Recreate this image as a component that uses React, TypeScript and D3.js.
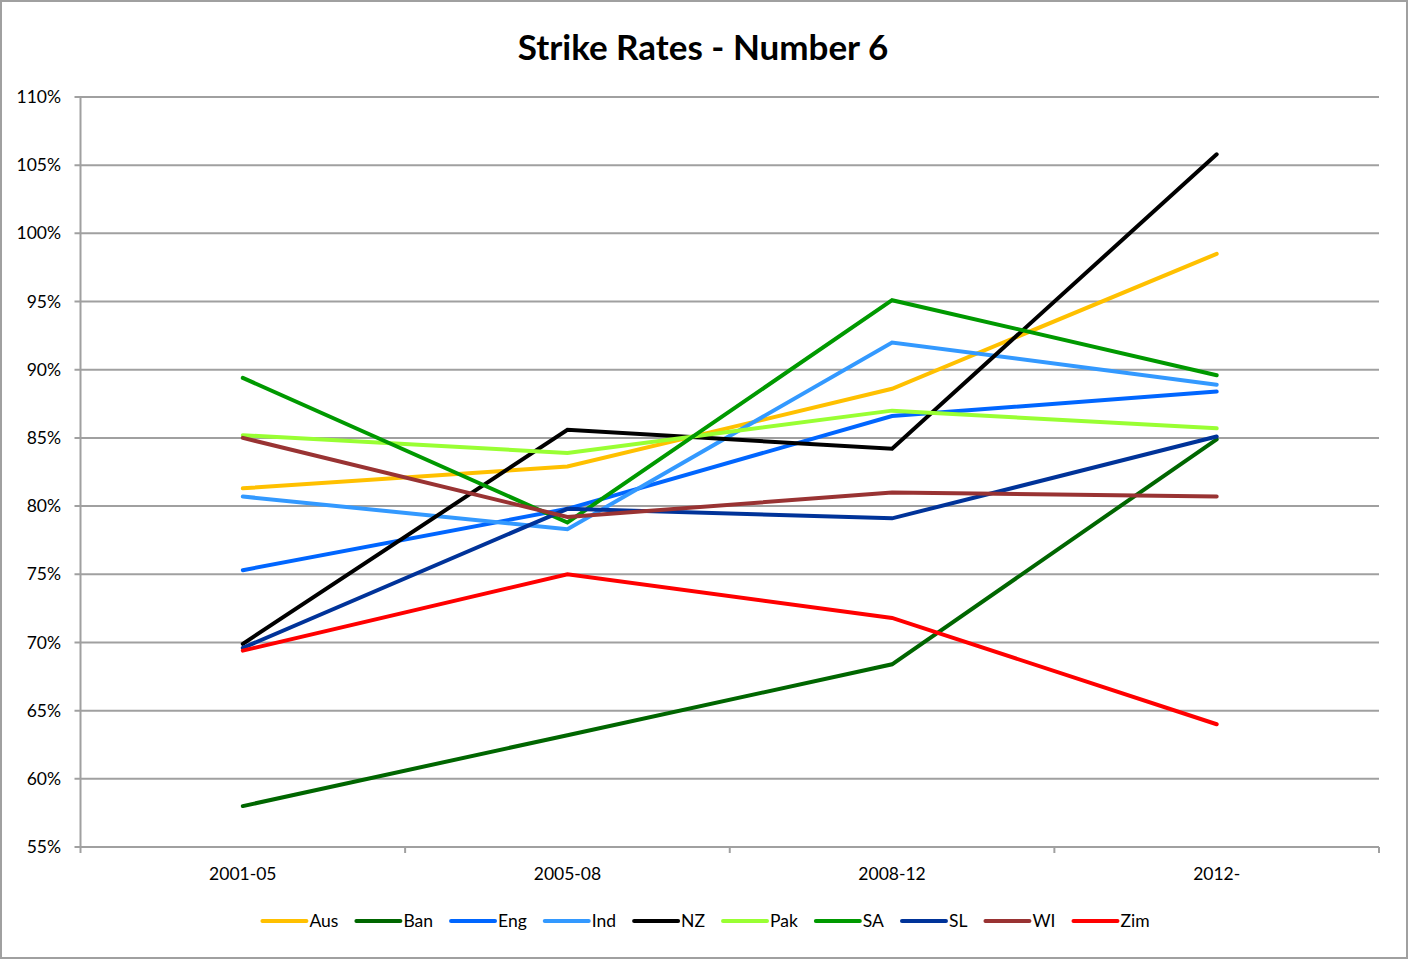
import { useRef, useEffect } from "react";
import * as d3 from "d3";

// Strike rates of number-6 batsmen, by period (values in %)
const periods = ["2001-05", "2005-08", "2008-12", "2012-"];
const teams = ["Aus", "Ban", "Eng", "Ind", "NZ", "Pak", "SA", "SL", "WI", "Zim"];
const colors = ["#ffc000", "#006600", "#0066ff", "#3399ff", "#000000", "#99ff33", "#009900", "#003399", "#993333", "#ff0000"];

const aus = [81.3, 82.9, 88.6, 98.5];
const ban = [58.0, 63.2, 68.4, 84.9];
const eng = [75.3, 79.8, 86.6, 88.4];
const ind = [80.7, 78.3, 92.0, 88.9];
const nz = [69.9, 85.6, 84.2, 105.8];
const pak = [85.2, 83.9, 87.0, 85.7];
const sa = [89.4, 78.8, 95.1, 89.6];
const sl = [69.6, 79.8, 79.1, 85.1];
const wi = [85.0, 79.2, 81.0, 80.7];
const zim = [69.4, 75.0, 71.8, 64.0];
const series = [aus, ban, eng, ind, nz, pak, sa, sl, wi, zim];

const yTicks = [55, 60, 65, 70, 75, 80, 85, 90, 95, 100, 105, 110];

const W = 1408;
const H = 959;
const FONT = "Lato, 'DejaVu Sans', sans-serif";

export default function App() {
  const svgRef = useRef<SVGSVGElement>(null);

  useEffect(() => {
    if (!svgRef.current) return;
    const svg = d3.select(svgRef.current);
    svg.selectAll("*").remove();

    const m = { top: 97, right: 29, bottom: 112, left: 80.5 };
    const x = d3.scalePoint<string>().domain(periods).range([m.left, W - m.right]).padding(0.5);
    const y = d3.scaleLinear().domain([55, 110]).range([H - m.bottom, m.top]);
    const grid = "#a0a0a0";

    // outer frame
    svg.append("rect").attr("x", 1).attr("y", 1).attr("width", W - 2).attr("height", H - 2)
      .attr("fill", "#fff").attr("stroke", grid).attr("stroke-width", 2);

    // title
    svg.append("text").attr("x", 703).attr("y", 60).attr("text-anchor", "middle")
      .attr("font-family", FONT).attr("font-weight", 700).attr("font-size", "35px").attr("fill", "#000")
      .text("Strike Rates - Number 6");

    // gridlines + y labels
    const gy = svg.append("g");
    yTicks.forEach(t => {
      gy.append("line").attr("x1", m.left - 6).attr("x2", W - m.right)
        .attr("y1", y(t)).attr("y2", y(t)).attr("stroke", grid).attr("stroke-width", 2);
      gy.append("text").attr("x", 61).attr("y", y(t)).attr("dy", "0.35em").attr("text-anchor", "end")
        .attr("font-family", FONT).attr("font-size", "17.5px").attr("fill", "#000")
        .text(`${t}%`);
    });

    // y axis line
    svg.append("line").attr("x1", m.left).attr("x2", m.left).attr("y1", m.top).attr("y2", y(55))
      .attr("stroke", grid).attr("stroke-width", 2);

    // x ticks at band edges
    const step = x.step();
    d3.range(periods.length + 1).forEach(i => {
      const xx = m.left + i * step;
      svg.append("line").attr("x1", xx).attr("x2", xx).attr("y1", y(55)).attr("y2", y(55) + 6)
        .attr("stroke", grid).attr("stroke-width", 2);
    });
    periods.forEach(p => {
      svg.append("text").attr("x", x(p)!).attr("y", 880).attr("text-anchor", "middle")
        .attr("font-family", FONT).attr("font-size", "17.5px").attr("fill", "#000")
        .text(p);
    });

    // lines
    const line = d3.line<number>().x((_, i) => x(periods[i])!).y(d => y(d));
    series.forEach((s, i) => {
      svg.append("path").datum(s).attr("d", line).attr("fill", "none")
        .attr("stroke", colors[i]).attr("stroke-width", 4).attr("stroke-linecap", "round");
    });

    // legend
    const lg = svg.append("g");
    const lineLen = 44, gap = 3, itemGap = 18;
    let cx = 0;
    const items: { g: d3.Selection<SVGGElement, unknown, null, undefined>; w: number }[] = [];
    teams.forEach((t, i) => {
      const g = lg.append("g");
      g.append("line").attr("x1", 0).attr("x2", lineLen).attr("y1", 0).attr("y2", 0)
        .attr("stroke", colors[i]).attr("stroke-width", 4).attr("stroke-linecap", "round");
      const txt = g.append("text").attr("x", lineLen + gap).attr("y", 0).attr("dy", "0.35em")
        .attr("font-family", FONT).attr("font-size", "17.5px").attr("fill", "#000").text(t);
      const tw = (txt.node() as SVGTextElement).getComputedTextLength();
      items.push({ g, w: lineLen + gap + tw });
    });
    const total = d3.sum(items, d => d.w) + itemGap * (items.length - 1);
    cx = 706 - total / 2;
    items.forEach(it => {
      it.g.attr("transform", `translate(${cx},921)`);
      cx += it.w + itemGap;
    });
  }, []);

  return (
    <div style={{ position: "absolute", left: 0, top: 0 }}>
      <svg ref={svgRef} width={W} height={H} style={{ display: "block" }} />
    </div>
  );
}
